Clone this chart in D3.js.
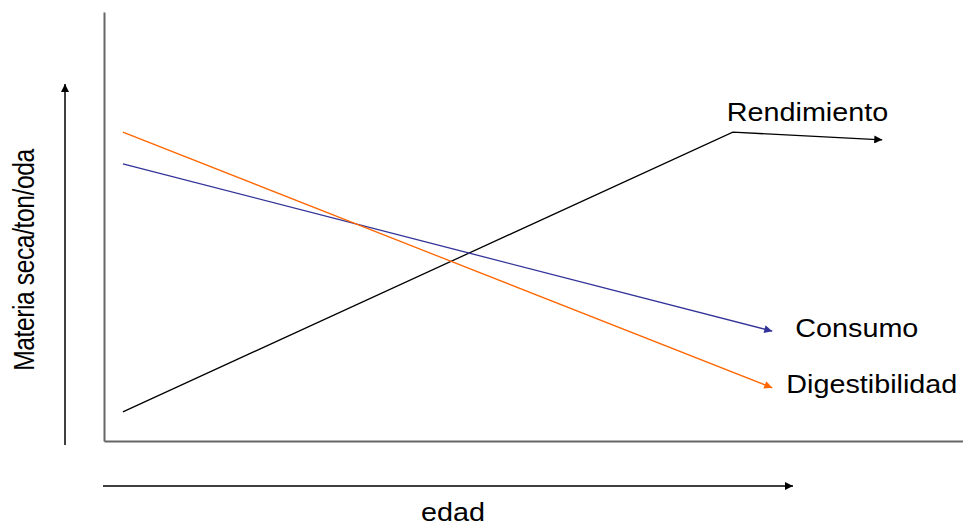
<!DOCTYPE html>
<html>
<head>
<meta charset="utf-8">
<script src="https://cdn.jsdelivr.net/npm/d3@7"></script>
<style>
  html, body { margin: 0; padding: 0; background: #fff; }
  svg { display: block; }
  text { font-family: "Liberation Sans", Arial, sans-serif; fill: #000; }
</style>
</head>
<body>
<svg id="chart" width="963" height="527"></svg>
<script>
// ---- data (x: edad, y: materia seca, relative units 0-100) ----
const seriesNames = ["Rendimiento", "Consumo", "Digestibilidad"];
const rendimientoX = [2.2, 73.2, 90.6];
const rendimientoY = [6.8, 72.0, 70.2];
const consumoX = [2.2, 77.8];
const consumoY = [64.6, 25.6];
const digestibilidadX = [2.2, 77.8];
const digestibilidadY = [72.0, 12.4];
const xAxisLabel = "edad";
const yAxisLabel = "Materia seca/ton/oda";

const svg = d3.select("#chart");
const plot = { left: 104, right: 963, top: 12, bottom: 441 };

const x = d3.scaleLinear().domain([0, 100]).range([plot.left, plot.right]);
const y = d3.scaleLinear().domain([0, 100]).range([plot.bottom, plot.top]);

// arrow markers
const defs = svg.append("defs");
function marker(id, color) {
  defs.append("marker")
    .attr("id", id)
    .attr("viewBox", "0 0 10 10")
    .attr("refX", 10).attr("refY", 5)
    .attr("markerUnits", "userSpaceOnUse")
    .attr("markerWidth", 11).attr("markerHeight", 8)
    .attr("orient", "auto")
    .append("path").attr("d", "M0,0 L10,5 L0,10 Z").attr("fill", color);
}
marker("arrBlack", "#000");
marker("arrBlue", "#333399");
marker("arrOrange", "#ff6600");

// plot frame axes (left + bottom)
const yAxis = d3.axisLeft(y).tickValues([]).tickSizeOuter(0);
const xAxis = d3.axisBottom(x).tickValues([]).tickSizeOuter(0);
svg.append("g").attr("transform", `translate(${plot.left},0)`).call(yAxis)
  .select(".domain").attr("stroke", "#666").attr("stroke-width", 2);
svg.append("g").attr("transform", `translate(0,${plot.bottom})`).call(xAxis)
  .select(".domain").attr("stroke", "#666").attr("stroke-width", 2);

// external direction arrows
svg.append("line").attr("x1", 65).attr("y1", 445).attr("x2", 65).attr("y2", 84)
  .attr("stroke", "#000").attr("stroke-width", 1.5).attr("marker-end", "url(#arrBlack)");
svg.append("line").attr("x1", 103).attr("y1", 486).attr("x2", 793).attr("y2", 486)
  .attr("stroke", "#000").attr("stroke-width", 1.5).attr("marker-end", "url(#arrBlack)");

// series
const series = [
  { name: seriesNames[0], xs: rendimientoX, ys: rendimientoY, color: "#000", marker: "arrBlack" },
  { name: seriesNames[1], xs: consumoX, ys: consumoY, color: "#333399", marker: "arrBlue" },
  { name: seriesNames[2], xs: digestibilidadX, ys: digestibilidadY, color: "#ff6600", marker: "arrOrange" }
];
const line = d3.line().x(d => x(d[0])).y(d => y(d[1]));
series.forEach(s => {
  const pts = s.xs.map((v, i) => [v, s.ys[i]]);
  svg.append("path").datum(pts)
    .attr("d", line)
    .attr("fill", "none")
    .attr("stroke", s.color)
    .attr("stroke-width", 1.3)
    .attr("marker-end", `url(#${s.marker})`);
});

// series labels
function label(txt, px, py) {
  svg.append("text")
    .attr("transform", `translate(${px},${py}) scale(1.15,1)`)
    .attr("font-size", 25)
    .text(txt);
}
label(seriesNames[0], x(rendimientoX[1]) - 6, y(rendimientoY[1]) - 11);
label(seriesNames[1], x(consumoX[1]) + 23, y(consumoY[1]) + 6);
label(seriesNames[2], x(digestibilidadX[1]) + 14, y(digestibilidadY[1]) + 5);

// axis titles
svg.append("text")
  .attr("transform", `translate(453,521) scale(1.15,1)`)
  .attr("font-size", 25)
  .attr("text-anchor", "middle")
  .text(xAxisLabel);
svg.append("text")
  .attr("transform", `translate(34,260) rotate(-90) scale(0.85,1)`)
  .attr("font-size", 29)
  .attr("text-anchor", "middle")
  .attr("letter-spacing", -0.5)
  .text(yAxisLabel);
</script>
</body>
</html>
